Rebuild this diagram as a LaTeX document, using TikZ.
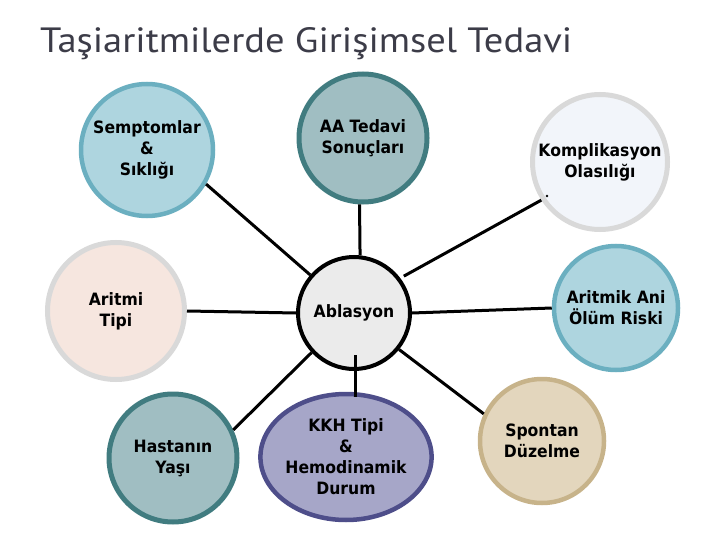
\documentclass[tikz,border=0pt]{standalone}
\usepackage{fontspec}
\setmainfont{DejaVu Sans}
\newfontfamily\nodefont[FakeStretch=0.92]{DejaVu Sans}
\newfontfamily\titlefont{PT Sans}
\usetikzlibrary{shapes.geometric,calc}
\definecolor{titlegray}{HTML}{3C3C48}
\definecolor{ltbluefill}{HTML}{AED5DF}
\definecolor{ltblueline}{HTML}{6BAFC0}
\definecolor{tealfill}{HTML}{A0BEC2}
\definecolor{tealline}{HTML}{417C80}
\definecolor{greyline}{HTML}{D9D9D9}
\definecolor{komfill}{HTML}{F2F5FA}
\definecolor{arifill}{HTML}{F6E6DF}
\definecolor{ablfill}{HTML}{EBEBEB}
\definecolor{kkhfill}{HTML}{A6A6C8}
\definecolor{kkhline}{HTML}{4E4E8A}
\definecolor{spofill}{HTML}{E3D6BD}
\definecolor{spoline}{HTML}{C7B38A}
\tikzset{
  bubble/.style={circle, draw, line width=4.5pt, align=center, inner sep=0pt,
    font=\nodefont\bfseries\fontsize{17}{21}\selectfont, text=black},
  link/.style={line width=3pt, black}
}
\begin{document}
\begin{tikzpicture}[x=1pt,y=-1pt]
\useasboundingbox (0,0) rectangle (720,540);
\node[anchor=base west, inner sep=0pt, text=titlegray] (title) at (40,53)
  {\resizebox{532pt}{25pt}{\titlefont Taşiaritmilerde Girişimsel Tedavi}};

\node[bubble, fill=ltbluefill, draw=ltblueline, minimum size=132pt] (sym) at (147,150) {Semptomlar\\\&\\Sıklığı};
\node[bubble, fill=tealfill, draw=tealline, line width=5pt, minimum size=128pt] (aa) at (363,138) {AA Tedavi\\Sonuçları};
\node[bubble, fill=komfill, draw=greyline, line width=5pt, minimum size=135pt] (kom) at (600,162) {Komplikasyon\\Olasılığı};
\node[bubble, fill=arifill, draw=greyline, line width=5pt, minimum size=137pt] (ari) at (116,311) {Aritmi\\Tipi};
\node[bubble, fill=ablfill, draw=black, line width=4pt, minimum size=112pt] (abl) at (354,313) {Ablasyon};
\node[bubble, fill=ltbluefill, draw=ltblueline, minimum size=124pt] (aan) at (616,308) {Aritmik Ani\\Ölüm Riski};
\node[bubble, fill=tealfill, draw=tealline, line width=5pt, minimum size=128pt] (has) at (173,458) {Hastanın\\Yaşı};
\node[bubble, ellipse, fill=kkhfill, draw=kkhline, minimum width=154pt, minimum height=126pt] (kkh) at (346,457) {KKH Tipi\\\&\\Hemodinamik\\Durum};
\node[bubble, fill=spofill, draw=spoline, minimum size=124pt] (spo) at (542,441) {Spontan\\Düzelme};

\draw[link] (sym.-30) -- (abl.139);
\draw[link] (aa.-93) -- (abl.84);
\draw[link, shorten >=4pt] (kom.213) -- (abl.37);
\draw[link] (ari.east) -- (abl.west);
\draw[link] (abl.east) -- (aan.west);
\draw[link] (has.25) -- (abl.223);
\draw[link] ($(abl.south)+(1,-16)$) -- ($(kkh.north)+(9,5)$);
\draw[link] (abl.-39) -- (spo.155);
\coordinate (dot) at (547,196);
\fill[black] (dot) circle (1.3pt);
\end{tikzpicture}
\end{document}
